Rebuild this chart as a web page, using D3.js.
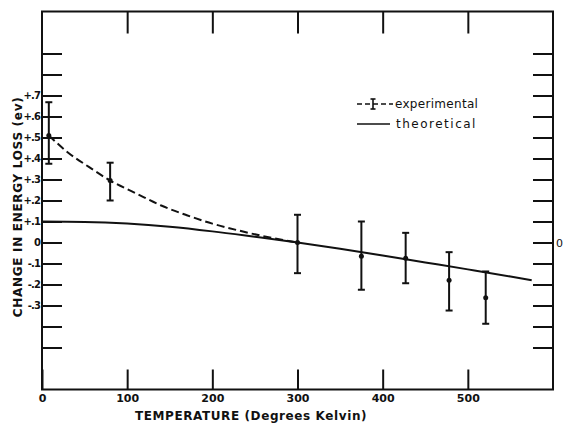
<!DOCTYPE html>
<html>
<head>
<meta charset="utf-8">
<script src="https://cdn.jsdelivr.net/npm/d3@7"></script>
<style>
  body { margin: 0; background: #fff; }
  svg text { font-family: "DejaVu Sans", sans-serif; fill: #111; }
  .tick line { stroke: #111; stroke-width: 2; }
  .tick text { font-size: 11px; font-weight: bold; }
  .yleft .tick text { font-size: 10px; letter-spacing: -0.9px; }
</style>
</head>
<body>
<svg id="chart" width="564" height="423"></svg>
<script>
// experimental points (Kelvin, eV change) with error bar ends
var expTemp = [8, 80, 300, 375, 427, 478, 521];
var expValue = [0.51, 0.295, 0.0, -0.065, -0.075, -0.18, -0.263];
var expHigh = [0.668, 0.38, 0.132, 0.10, 0.046, -0.046, -0.138];
var expLow = [0.375, 0.20, -0.146, -0.225, -0.194, -0.324, -0.387];

// dashed curve through the experimental points
var dashTemp = [8, 30, 55, 80, 110, 140, 170, 200, 230, 260, 300];
var dashValue = [0.51, 0.43, 0.36, 0.295, 0.235, 0.176, 0.13, 0.09, 0.058, 0.03, 0.0];

// theoretical curve
var theoTemp = [0, 50, 100, 150, 200, 250, 300, 350, 400, 450, 500, 550, 575];
var theoValue = [0.10, 0.098, 0.09, 0.075, 0.053, 0.027, 0.0, -0.03, -0.062, -0.095, -0.128, -0.162, -0.18];

var xTicks = [0, 100, 200, 300, 400, 500];
var yTicks = [-0.5, -0.4, -0.3, -0.2, -0.1, 0, 0.1, 0.2, 0.3, 0.4, 0.5, 0.6, 0.7, 0.8, 0.9];
var yLabelled = [-0.3, -0.2, -0.1, 0, 0.1, 0.2, 0.3, 0.4, 0.5, 0.6, 0.7];

var plotLeft = 42, plotRight = 553, plotTop = 11.5, plotBottom = 389.5;

var xScale = d3.scaleLinear().domain([0, 600]).range([plotLeft, plotRight]);
var yScale = d3.scaleLinear().domain([-0.7, 1.1]).range([plotBottom, plotTop]);

var svg = d3.select("#chart");

function yFmt(v) {
  var r = Math.round(v * 10);
  if (yLabelled.indexOf(r / 10) < 0) return "";
  if (r === 0) return "0";
  return (r > 0 ? "+" : "-") + "." + Math.abs(r);
}

// frame
svg.append("rect")
    .attr("x", plotLeft).attr("y", plotTop)
    .attr("width", plotRight - plotLeft).attr("height", plotBottom - plotTop)
    .attr("fill", "none").attr("stroke", "#111").attr("stroke-width", 2);

// left axis, ticks pointing in
var gl = svg.append("g")
    .attr("class", "yleft")
    .attr("transform", "translate(" + plotLeft + ",0)")
    .call(d3.axisLeft(yScale).tickValues(yTicks).tickSizeInner(-20).tickSizeOuter(0)
      .tickPadding(2).tickFormat(yFmt));
gl.select(".domain").remove();

// right axis, only the zero label
var gr = svg.append("g")
    .attr("transform", "translate(" + plotRight + ",0)")
    .call(d3.axisRight(yScale).tickValues(yTicks).tickSizeInner(-20).tickSizeOuter(0)
      .tickPadding(3).tickFormat(function(d) { return Math.abs(d) < 1e-9 ? "0" : ""; }));
gr.select(".domain").remove();
gr.selectAll(".tick text").style("font-weight", "normal");

// bottom axis
var gb = svg.append("g")
    .attr("transform", "translate(0," + plotBottom + ")")
    .call(d3.axisBottom(xScale).tickValues(xTicks).tickSizeInner(-20).tickSizeOuter(0)
      .tickPadding(5).tickFormat(d3.format("d")));
gb.select(".domain").remove();

// top axis, no labels
var gt = svg.append("g")
    .attr("transform", "translate(0," + plotTop + ")")
    .call(d3.axisTop(xScale).tickValues(xTicks.slice(1)).tickSizeInner(-22).tickSizeOuter(0)
      .tickFormat(""));
gt.select(".domain").remove();

// axis titles
svg.append("text")
    .attr("x", 251).attr("y", 420)
    .attr("text-anchor", "middle")
    .style("font-size", "12px").style("font-weight", "bold").style("letter-spacing", "0.6px")
    .text("TEMPERATURE (Degrees Kelvin)");

svg.append("text")
    .attr("transform", "translate(22,207) rotate(-90)")
    .attr("text-anchor", "middle")
    .style("font-size", "12px").style("font-weight", "bold").style("letter-spacing", "0.7px")
    .text("CHANGE IN ENERGY LOSS (ev)");

// curves
var line = d3.line()
    .x(function(d) { return xScale(d[0]); })
    .y(function(d) { return yScale(d[1]); })
    .curve(d3.curveMonotoneX);

svg.append("path")
    .datum(theoTemp.map(function(t, i) { return [t, theoValue[i]]; }))
    .attr("d", line)
    .attr("fill", "none").attr("stroke", "#111").attr("stroke-width", 2);

svg.append("path")
    .datum(dashTemp.map(function(t, i) { return [t, dashValue[i]]; }))
    .attr("d", line)
    .attr("fill", "none").attr("stroke", "#111").attr("stroke-width", 2)
    .attr("stroke-dasharray", "8,4");

// error bars
var pts = expTemp.map(function(t, i) {
  return { t: t, v: expValue[i], hi: expHigh[i], lo: expLow[i] };
});

var eb = svg.selectAll(".err").data(pts).enter().append("g").attr("class", "err");
eb.append("line")
    .attr("x1", function(d) { return xScale(d.t); })
    .attr("x2", function(d) { return xScale(d.t); })
    .attr("y1", function(d) { return yScale(d.hi); })
    .attr("y2", function(d) { return yScale(d.lo); })
    .attr("stroke", "#111").attr("stroke-width", 2);
eb.append("line")
    .attr("x1", function(d) { return xScale(d.t) - 3.5; })
    .attr("x2", function(d) { return xScale(d.t) + 3.5; })
    .attr("y1", function(d) { return yScale(d.hi); })
    .attr("y2", function(d) { return yScale(d.hi); })
    .attr("stroke", "#111").attr("stroke-width", 2);
eb.append("line")
    .attr("x1", function(d) { return xScale(d.t) - 3.5; })
    .attr("x2", function(d) { return xScale(d.t) + 3.5; })
    .attr("y1", function(d) { return yScale(d.lo); })
    .attr("y2", function(d) { return yScale(d.lo); })
    .attr("stroke", "#111").attr("stroke-width", 2);
eb.append("circle")
    .attr("cx", function(d) { return xScale(d.t); })
    .attr("cy", function(d) { return yScale(d.v); })
    .attr("r", 2.5).attr("fill", "#111");

// legend
var lg = svg.append("g");
lg.append("line").attr("x1", 357).attr("x2", 393).attr("y1", 104).attr("y2", 104)
    .attr("stroke", "#111").attr("stroke-width", 1.6).attr("stroke-dasharray", "5,3");
lg.append("line").attr("x1", 373).attr("x2", 373).attr("y1", 99).attr("y2", 109)
    .attr("stroke", "#111").attr("stroke-width", 1.6);
lg.append("line").attr("x1", 370.5).attr("x2", 375.5).attr("y1", 99).attr("y2", 99)
    .attr("stroke", "#111").attr("stroke-width", 1.6);
lg.append("line").attr("x1", 370.5).attr("x2", 375.5).attr("y1", 109).attr("y2", 109)
    .attr("stroke", "#111").attr("stroke-width", 1.6);
lg.append("text").attr("x", 395).attr("y", 108).style("font-size", "12px")
    .style("letter-spacing", "0.3px").text("experimental");
lg.append("line").attr("x1", 357).attr("x2", 390).attr("y1", 124).attr("y2", 124)
    .attr("stroke", "#111").attr("stroke-width", 1.6);
lg.append("text").attr("x", 396).attr("y", 128).style("font-size", "12px")
    .style("letter-spacing", "1.5px").text("theoretical");
</script>
</body>
</html>
